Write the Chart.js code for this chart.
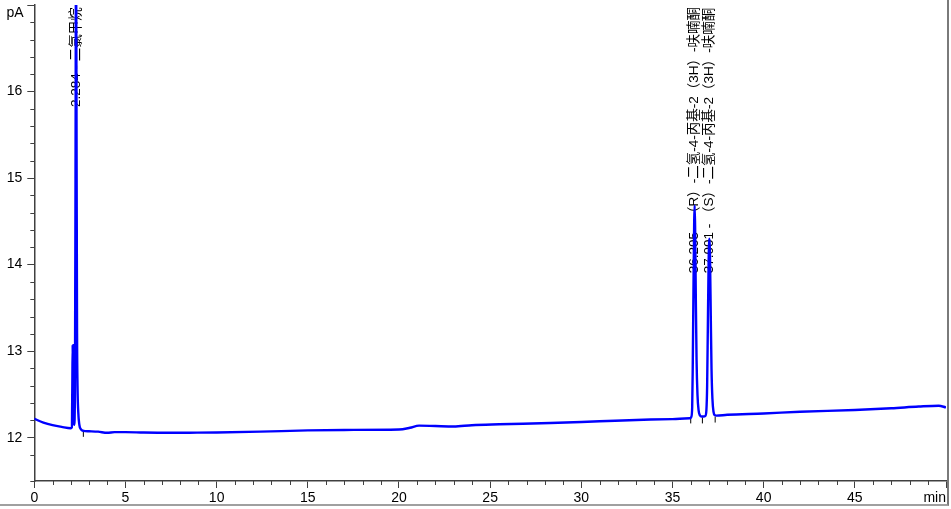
<!DOCTYPE html>
<html>
<head>
<meta charset="utf-8">
<script src="https://cdn.jsdelivr.net/npm/chart.js@4.4.1/dist/chart.umd.min.js"></script>
<style>
  html, body { margin: 0; padding: 0; background: #fff; }
  #wrap { position: relative; width: 951px; height: 509px; }
  #frame {
    position: absolute; left: 0; top: 0; width: 947px; height: 504px;
    border-right: 2px solid #7a7a7a; border-bottom: 2px solid #a0a0a0;
    pointer-events: none;
  }
</style>
</head>
<body>
<div id="wrap">
  <canvas id="chart" width="951" height="509"></canvas>
  <div id="frame"></div>
</div>
<script>
// Chromatogram: retention time (min) vs detector signal (pA)

const signalTimes = [
  0, 0.1, 0.5, 1.0, 1.5, 2.0, 2.06, 2.085, 2.105, 2.125, 2.15, 2.19, 2.23, 2.26, 2.29,
  2.32, 2.345, 2.37, 2.41, 2.47, 2.55, 2.7, 3.0, 3.5, 4.0, 4.4, 5.0, 6.0, 7.4, 8.5,
  10, 12.4, 15, 17, 20, 20.6, 21.1, 22, 23, 24, 25.5, 28.3, 31, 33.8, 35,
  35.95, 36.03, 36.08, 36.11, 36.15, 36.19, 36.215, 36.24, 36.28, 36.32, 36.37, 36.43,
  36.5, 36.6, 36.7, 36.8, 36.86, 36.9, 36.94, 36.98, 37.02, 37.06, 37.1, 37.14, 37.19,
  37.25, 37.32, 37.4, 38, 40, 42, 45, 47, 48.5, 49.6, 50
];
const signalValues = [
  12.22, 12.21, 12.175, 12.145, 12.125, 12.11, 12.12, 12.6, 13.07, 12.6, 12.2, 12.15, 12.6, 15.0, 17.8,
  15.2, 13.2, 12.6, 12.3, 12.15, 12.1, 12.08, 12.075, 12.07, 12.057, 12.065, 12.065, 12.06, 12.057, 12.058,
  12.06, 12.07, 12.085, 12.09, 12.095, 12.115, 12.14, 12.135, 12.13, 12.145, 12.155, 12.17, 12.19, 12.21, 12.215,
  12.225, 12.24, 12.35, 12.8, 13.7, 14.5, 14.68, 14.45, 13.6, 12.9, 12.5, 12.32,
  12.26, 12.245, 12.245, 12.25, 12.32, 12.6, 13.3, 14.0, 14.3, 14.05, 13.4, 12.8, 12.45,
  12.3, 12.26, 12.255, 12.265, 12.28, 12.3, 12.32, 12.34, 12.36, 12.37, 12.35
];

// integration baseline marks
const markTimes = [2.69, 36.0, 36.64, 37.34];
const markValues = [12.045, 12.2, 12.2, 12.21];

const peakTimes = [2.284, 36.205, 37.001];
const peakNames = [
  "二氯甲烷",
  "（R）-二氢-4-丙基-2（3H）-呋喃酮",
  "（S）-二氢-4-丙基-2（3H）-呋喃酮"
];

const xUnit = "min";
const yUnit = "pA";

const axisColor = "#404040";
const fontFamily = "'Liberation Sans', Arial, 'Noto Sans CJK SC', sans-serif";
// signal level where each rotated peak label starts
const labelStart = [15.82, 13.9, 13.9];

const isWhole = (v) => Math.abs(v - Math.round(v)) < 1e-6;
const isMajorX = (v) => isWhole(v) && Math.round(v) % 5 === 0;

const chromPlugin = {
  id: "chrom",
  beforeDatasetsDraw(chart) {
    const { ctx, scales: { x, y } } = chart;
    ctx.save();
    ctx.fillStyle = "#000";
    ctx.font = "13.5px " + fontFamily;
    ctx.textAlign = "left";
    ctx.textBaseline = "middle";
    peakTimes.forEach((t, i) => {
      ctx.save();
      ctx.translate(x.getPixelForValue(t), y.getPixelForValue(labelStart[i]));
      ctx.rotate(-Math.PI / 2);
      ctx.fillText(t.toFixed(3) + " - " + peakNames[i], 0, 0);
      ctx.restore();
    });
    ctx.restore();
  },
  afterDraw(chart) {
    const { ctx, scales: { x, y } } = chart;
    ctx.save();
    // minor ticks
    ctx.strokeStyle = axisColor;
    ctx.lineWidth = 1;
    ctx.beginPath();
    x.ticks.forEach((t) => {
      if (isMajorX(t.value)) return;
      const px = Math.round(x.getPixelForValue(t.value)) + 0.5;
      ctx.moveTo(px, x.top);
      ctx.lineTo(px, x.top + 4);
    });
    y.ticks.forEach((t) => {
      if (isWhole(t.value)) return;
      const py = Math.round(y.getPixelForValue(t.value)) + 0.5;
      ctx.moveTo(y.right - 4, py);
      ctx.lineTo(y.right, py);
    });
    ctx.stroke();

    // unit labels
    ctx.fillStyle = "#000";
    ctx.font = "14px " + fontFamily;
    ctx.textBaseline = "middle";
    ctx.textAlign = "center";
    ctx.fillText(yUnit, 15, 13);
    ctx.textAlign = "right";
    ctx.fillText(xUnit, x.right, 498);
    ctx.restore();
  }
};

new Chart(document.getElementById("chart"), {
  type: "line",
  data: {
    datasets: [
      {
        data: signalTimes.map((t, i) => ({ x: t, y: signalValues[i] })),
        borderColor: "#0000ff",
        borderWidth: 2.4,
        pointRadius: 0,
        cubicInterpolationMode: "monotone"
      },
      {
        type: "scatter",
        data: markTimes.map((t, i) => ({ x: t, y: markValues[i] })),
        pointStyle: "line",
        rotation: 90,
        pointRadius: 3,
        borderColor: "#000",
        borderWidth: 1,
        showLine: false
      }
    ]
  },
  options: {
    responsive: false,
    animation: false,
    devicePixelRatio: 1,
    layout: { padding: { top: 3, right: 4.5, left: 0, bottom: 0 } },
    plugins: { legend: { display: false }, tooltip: { enabled: false } },
    scales: {
      x: {
        type: "linear",
        min: 0,
        max: 50,
        afterFit: (s) => { s.height = 28; s.paddingLeft = 0; s.paddingRight = 0; },
        border: { color: axisColor, width: 1.5 },
        grid: {
          drawOnChartArea: false,
          tickLength: 7,
          tickColor: (c) => (c.tick && isMajorX(c.tick.value) ? axisColor : "rgba(0,0,0,0)")
        },
        ticks: {
          stepSize: 1,
          autoSkip: false,
          maxRotation: 0,
          minRotation: 0,
          padding: 2,
          color: "#000",
          font: { family: fontFamily, size: 14 },
          callback: (v) => (isMajorX(v) && v < 50 ? String(Math.round(v)) : "")
        }
      },
      y: {
        min: 11.5,
        max: 17,
        afterFit: (s) => { s.width = 34.3; s.paddingTop = 0; s.paddingBottom = 0; },
        border: { color: axisColor, width: 1.5 },
        grid: {
          drawOnChartArea: false,
          tickLength: 7,
          tickColor: (c) => (c.tick && isWhole(c.tick.value) ? axisColor : "rgba(0,0,0,0)")
        },
        ticks: {
          stepSize: 0.2,
          autoSkip: false,
          padding: 5,
          color: "#000",
          font: { family: fontFamily, size: 14 },
          callback: (v) => (isWhole(v) && v < 17 ? String(Math.round(v)) : "")
        }
      }
    }
  },
  plugins: [chromPlugin]
});
</script>
</body>
</html>
